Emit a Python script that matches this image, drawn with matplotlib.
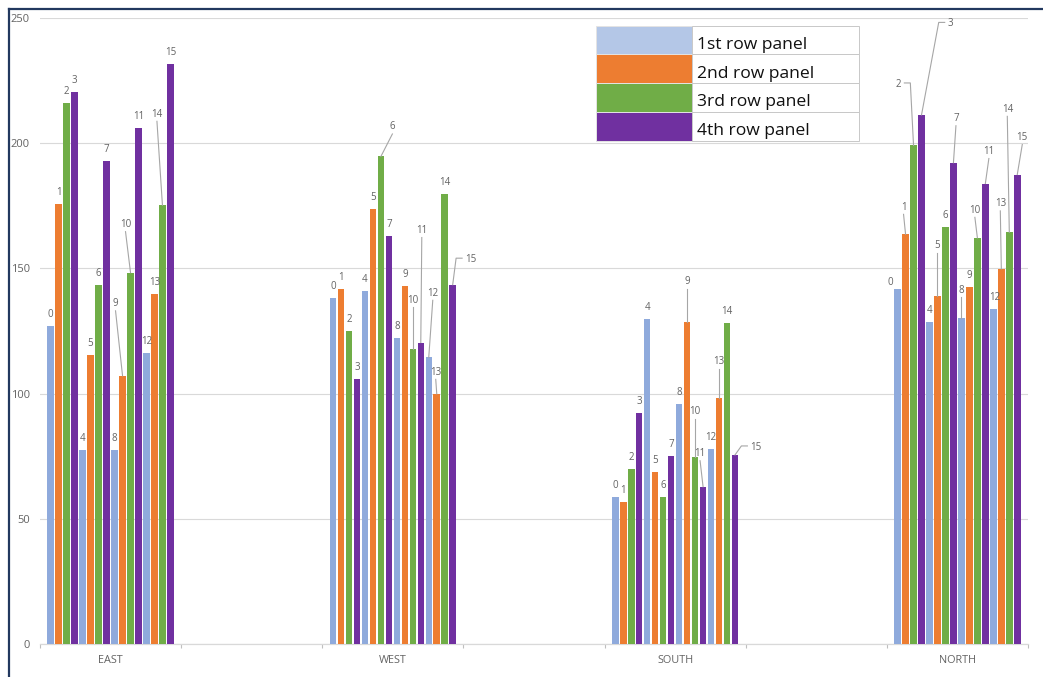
import matplotlib
matplotlib.use("Agg")
import matplotlib.pyplot as plt
import numpy as np
from matplotlib.patches import Rectangle
from matplotlib.lines import Line2D
from matplotlib.transforms import Affine2D, ScaledTranslation

plt.rcParams["font.family"] = ["Open Sans", "DejaVu Sans"]

# ---- data -------------------------------------------------------------
categories = ["EAST", "", "WEST", "", "SOUTH", "", "NORTH"]
panel_names = ["1st row panel", "2nd row panel", "3rd row panel", "4th row panel"]

east = [127.1, 175.9, 216.2, 220.6, 77.5, 115.4, 143.3, 192.7,
        77.5, 107.1, 148.3, 206.0, 116.1, 139.7, 175.2, 231.5]
west = [138.2, 141.9, 125.1, 105.7, 140.9, 173.8, 194.7, 162.9,
        122.4, 142.9, 117.7, 120.4, 114.5, 99.9, 179.6, 143.5]
south = [58.9, 56.9, 69.7, 92.2, 129.6, 68.8, 58.6, 75.2,
         96.0, 128.6, 74.7, 62.8, 78.0, 98.4, 128.3, 75.5]
north = [141.6, 163.6, 199.1, 211.3, 128.5, 139.0, 166.4, 192.2,
         130.1, 142.4, 162.2, 183.9, 133.6, 149.8, 164.4, 187.5]

region_values = {"EAST": east, "WEST": west, "SOUTH": south, "NORTH": north}

# ---- style ------------------------------------------------------------
bar_colors = ["#8FAADC", "#ED7D31", "#70AD47", "#7030A0"]
swatch_colors = ["#B4C7E7", "#ED7D31", "#70AD47", "#7030A0"]
text_gray = "#636363"
leader_gray = "#a6a6a6"
grid_gray = "#d9d9d9"

# data-label placement (pixel offsets of the label from the bar top)
label_layout = {
    ("EAST", 9): (-7, 73, "line"),
    ("EAST", 10): (-5, 49, "line"),
    ("EAST", 14): (-5.5, 92, "line"),
    ("WEST", 6): (11.5, 30.5, "line"),
    ("WEST", 10): (0, 50, "line"),
    ("WEST", 11): (1, 113, "line"),
    ("WEST", 12): (4, 65, "line"),
    ("WEST", 13): (-1, 22.5, "line"),
    ("WEST", 15): (18, 26, "right"),
    ("SOUTH", 9): (0, 41, "line"),
    ("SOUTH", 10): (0, 46, "line"),
    ("SOUTH", 11): (-3, 34, "line"),
    ("SOUTH", 13): (0, 37, "line"),
    ("SOUTH", 15): (21, 8.5, "right"),
    ("NORTH", 0): (-7, 8, None),
    ("NORTH", 1): (-2, 28, "line"),
    ("NORTH", 2): (-15, 62, "left"),
    ("NORTH", 3): (29, 92, "right"),
    ("NORTH", 5): (0, 51, "line"),
    ("NORTH", 7): (2.5, 45, "line"),
    ("NORTH", 8): (0, 29, "line"),
    ("NORTH", 10): (-2.5, 28.5, "line"),
    ("NORTH", 11): (3.5, 33, "line"),
    ("NORTH", 12): (1, 12.5, None),
    ("NORTH", 13): (-1, 66, "line"),
    ("NORTH", 14): (-2, 124, "line"),
    ("NORTH", 15): (5, 38, "line"),
}

W, H = 1043, 677
fig = plt.figure(figsize=(W / 100, H / 100), dpi=100)
fig.patch.set_facecolor("white")


def fx(px):
    return px / W


def fy(py):
    return 1 - py / H


ax = fig.add_axes([fx(40), fy(644), (1028 - 40) / W, (644 - 18) / H])
ax.set_xlim(-0.5, len(categories) - 0.5)
ax.set_ylim(0, 250)
ax.set_autoscale_on(False)

n_bars = 16
slot = 0.9046 / n_bars
bar_w = slot * 0.815

for k, name in enumerate(categories):
    if not name:
        continue
    vals = region_values[name]
    xs = k + (np.arange(n_bars) - (n_bars - 1) / 2) * slot
    ax.bar(xs, vals, width=bar_w,
           color=[bar_colors[i % 4] for i in range(n_bars)], zorder=3)

    for i, (x, v) in enumerate(zip(xs, vals)):
        dx, dy, kind = label_layout.get((name, i), (0, 12.5, None))
        t = Affine2D() + ScaledTranslation(x, v, ax.transData)
        lab = str(i)
        ax.text(dx, dy - 3.5, lab, transform=t, ha="center", va="baseline",
                fontsize=7, color=text_gray, zorder=5)
        hw = 2.8 * len(lab)
        if kind == "line":
            pts = [(dx, dy - 8), (0, 0)]
        elif kind == "right":
            pts = [(dx - hw - 3, dy + 0.5), (dx - hw - 9, dy + 0.5), (0, 0)]
        elif kind == "left":
            pts = [(dx + hw + 3, dy + 0.5), (dx + hw + 9, dy + 0.5), (0, 0)]
        else:
            continue
        px_, py_ = zip(*pts)
        ax.add_artist(Line2D(px_, py_, transform=t, color=leader_gray,
                             lw=0.8, clip_on=False, zorder=4))

# axes styling
ax.set_yticks(np.arange(0, 251, 50))
ax.yaxis.grid(True, color=grid_gray, lw=0.8, zorder=0)
ax.set_axisbelow(True)
for side in ["left", "right", "top"]:
    ax.spines[side].set_visible(False)
ax.spines["bottom"].set_color(grid_gray)
ax.spines["bottom"].set_linewidth(0.9)
ax.tick_params(axis="y", length=0, pad=7.2, labelsize=8, labelcolor=text_gray)

ax.set_xticks(np.arange(len(categories)))
ax.set_xticklabels(categories)
ax.set_xticks(np.arange(-0.5, len(categories)), minor=True)
ax.tick_params(axis="x", which="major", length=0, pad=8, labelsize=7.8,
               labelcolor=text_gray)
ax.tick_params(axis="x", which="minor", length=3, width=0.8, color="#bfbfbf")

# legend drawn as a two-column table
leg_left, leg_split, leg_right = 596, 692.3, 858.7
row_top0, row_h = 25.7, 28.75
for r, (name, col) in enumerate(zip(panel_names, swatch_colors)):
    y0 = row_top0 + r * row_h
    y1 = y0 + row_h
    fig.add_artist(Rectangle((fx(leg_left), fy(y1)),
                             fx(leg_split) - fx(leg_left), fy(y0) - fy(y1),
                             facecolor=col, edgecolor="#e4e4e4", lw=0.7,
                             transform=fig.transFigure, zorder=6))
    fig.add_artist(Rectangle((fx(leg_split), fy(y1)),
                             fx(leg_right) - fx(leg_split), fy(y0) - fy(y1),
                             facecolor="white", edgecolor="#c8c8c8", lw=0.7,
                             transform=fig.transFigure, zorder=6))
    fig.text(fx(697), fy(y0 + 23.3), name, fontsize=12.6, ha="left",
             va="baseline", color="#111111", zorder=7)

# outer frame (left and top edges)
frame_color = "#22385f"
fig.add_artist(Line2D([fx(9), fx(9)], [0, fy(9)], color=frame_color, lw=1.6,
                      transform=fig.transFigure))
fig.add_artist(Line2D([fx(9), 1], [fy(9), fy(9)], color=frame_color, lw=1.6,
                      transform=fig.transFigure))

fig.savefig("out.png", dpi=100, facecolor="white")
